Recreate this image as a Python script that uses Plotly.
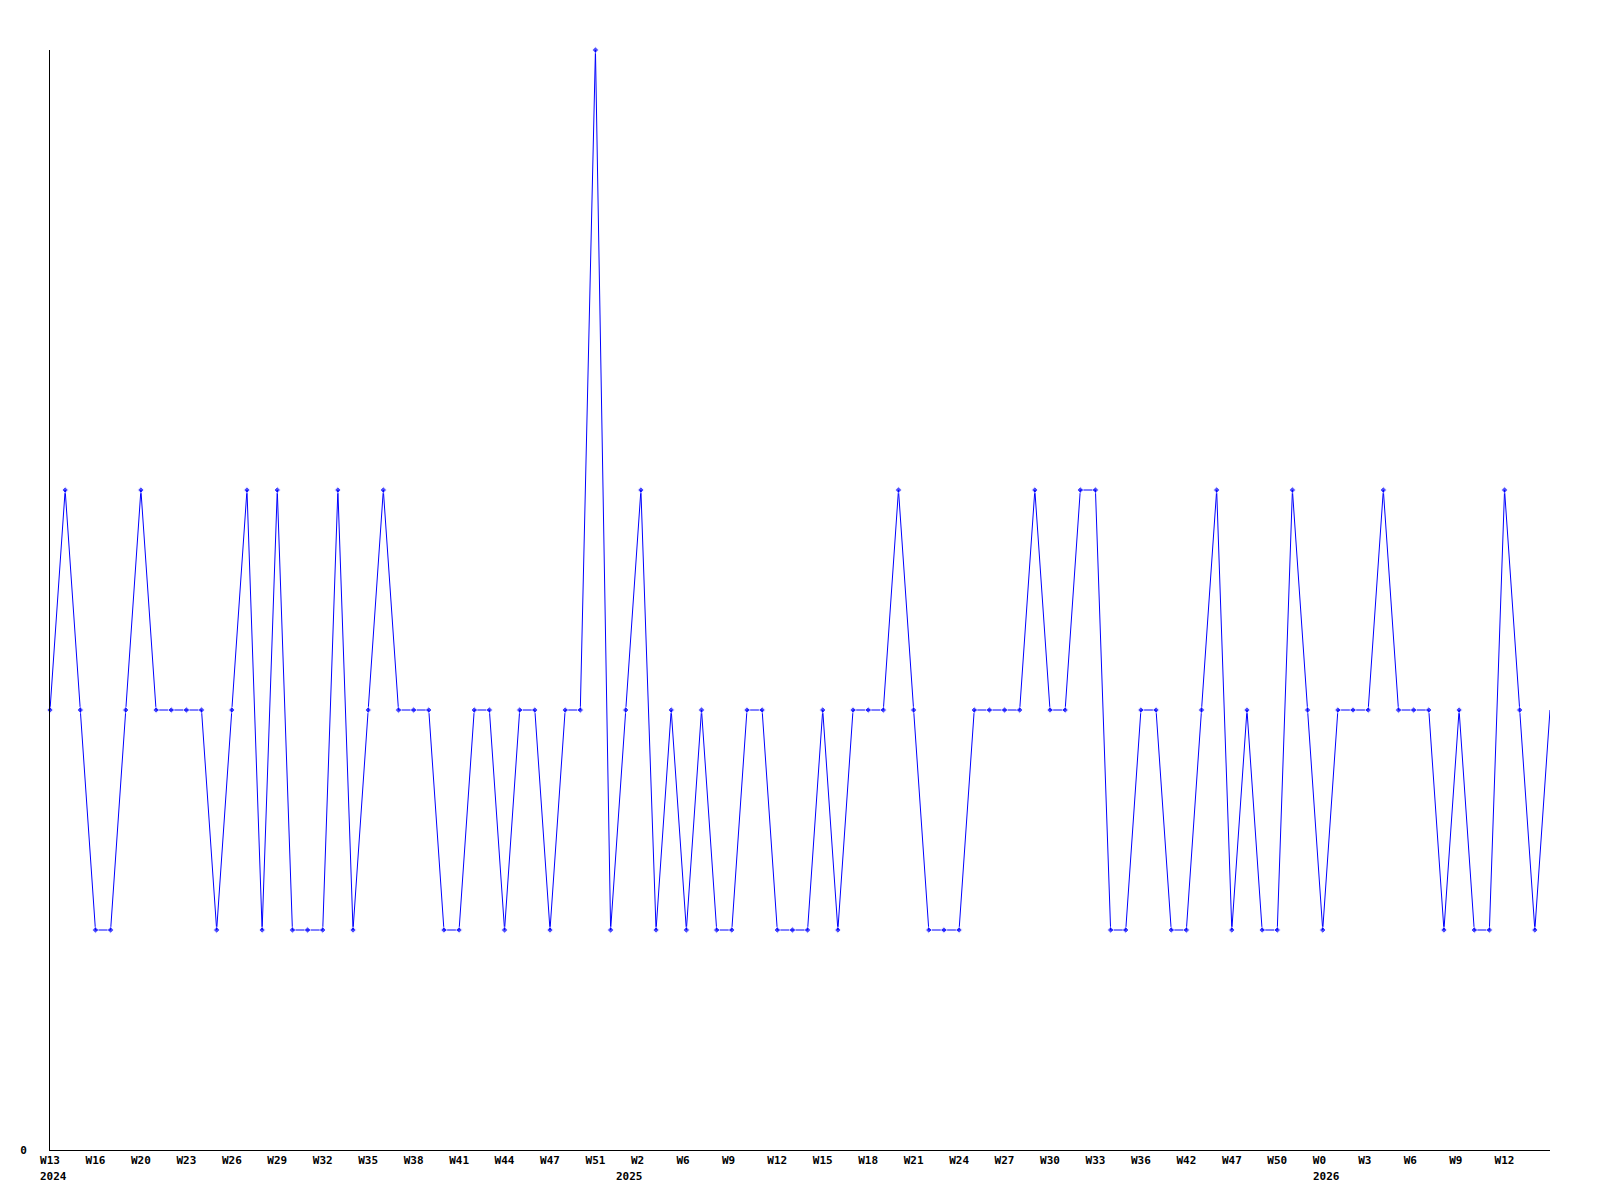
import plotly.graph_objects as go

# weekly values, one per point (index 0 = W13 2024)
values = [2, 3, 2, 1, 1, 2, 3, 2, 2, 2, 2, 1, 2, 3, 1, 3, 1, 1, 1, 3,
          1, 2, 3, 2, 2, 2, 1, 1, 2, 2, 1, 2, 2, 1, 2, 2, 5, 1, 2, 3,
          1, 2, 1, 2, 1, 1, 2, 2, 1, 1, 1, 2, 1, 2, 2, 2, 3, 2, 1, 1,
          1, 2, 2, 2, 2, 3, 2, 2, 3, 3, 1, 1, 2, 2, 1, 1, 2, 3, 1, 2,
          1, 1, 3, 2, 1, 2, 2, 2, 3, 2, 2, 2, 1, 2, 1, 1, 3, 2, 1, 2]

# x tick labels, every third point
tick_weeks = ["W13", "W16", "W20", "W23", "W26", "W29", "W32", "W35", "W38",
              "W41", "W44", "W47", "W51", "W2", "W6", "W9", "W12", "W15",
              "W18", "W21", "W24", "W27", "W30", "W33", "W36", "W42", "W47",
              "W50", "W0", "W3", "W6", "W9", "W12"]
tick_step = 3

# year labels and the point index where each year starts
years = ["2024", "2025", "2026"]
year_start_index = [0, 38, 84]

x = list(range(len(values)))
tick_pos = [i * tick_step for i in range(len(tick_weeks))]
# pad to 3 chars so labels left-align like the reference
tick_text = [w if len(w) >= 3 else w + "\u00a0" * (3 - len(w)) for w in tick_weeks]

FONT = dict(family="DejaVu Sans Mono", size=11, color="black", weight="bold")

sizes = [5] * (len(values) - 1) + [0]

fig = go.Figure()
fig.add_trace(go.Scatter(
    x=x, y=values, mode="lines+markers",
    line=dict(color="#0000ff", width=1),
    marker=dict(symbol="diamond", size=sizes, color="#0000ff"),
    cliponaxis=False, showlegend=False, hoverinfo="skip",
))

annotations = []
for yr, idx in zip(years, year_start_index):
    annotations.append(dict(
        x=idx, y=0, xref="x", yref="paper", text=yr, showarrow=False,
        xanchor="left", yanchor="top", xshift=-11, yshift=-19,
        font=FONT, borderpad=0,
    ))

fig.update_layout(
    width=1600, height=1200,
    margin=dict(l=42, r=58, t=42, b=58),
    paper_bgcolor="white", plot_bgcolor="white",
    xaxis=dict(range=[0, len(values) - 1], showline=True, linecolor="black",
               linewidth=1, showgrid=False, zeroline=False,
               tickmode="array", tickvals=tick_pos, ticktext=tick_text,
               ticks="", tickfont=FONT, tickangle=0),
    yaxis=dict(range=[0, 5], showline=True, linecolor="black", linewidth=1,
               showgrid=False, zeroline=False, tickmode="array",
               tickvals=[0], ticktext=["0"], ticks="", tickfont=FONT,
               ticklabelstandoff=20),
    annotations=annotations,
)

fig.write_html("out.html")
